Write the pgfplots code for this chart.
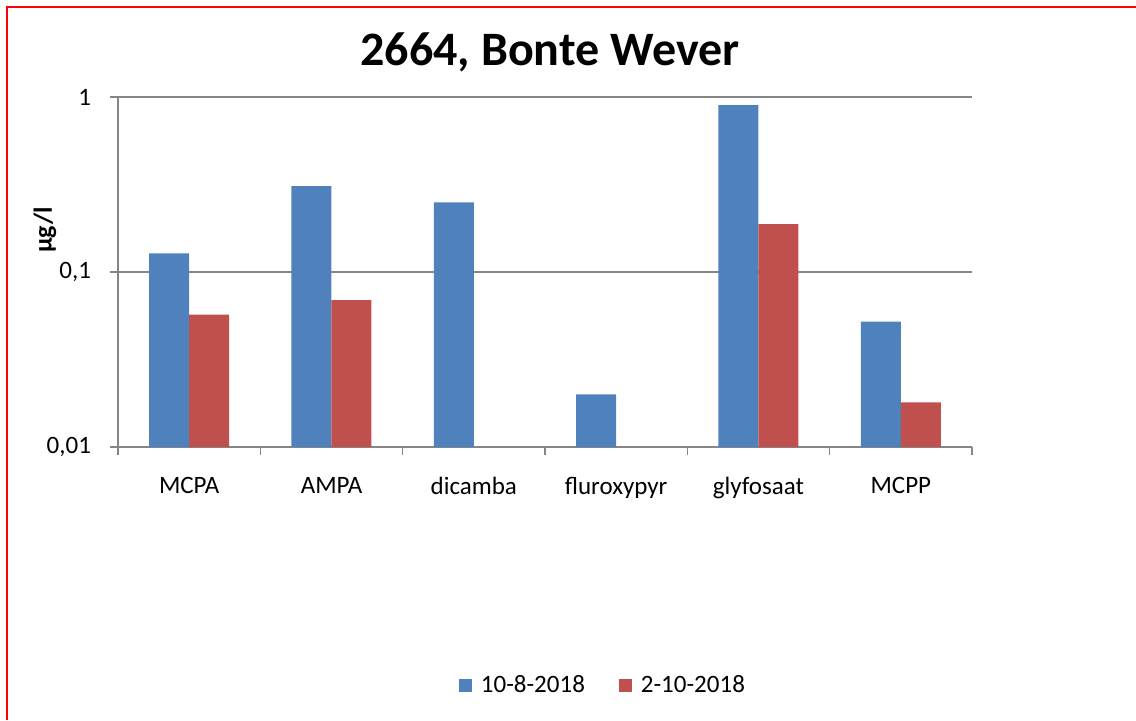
\documentclass[border=0pt]{standalone}
\usepackage{fontspec}
\setmainfont{Carlito}
\usepackage{pgfplots}
\pgfplotsset{compat=1.18}
\definecolor{serA}{RGB}{79,129,189}
\definecolor{serB}{RGB}{192,80,77}
\definecolor{gridgray}{RGB}{134,134,134}

\begin{document}
\begin{tikzpicture}[x=1pt,y=1pt]
\useasboundingbox (0,0) rectangle (568,360);
\draw[red, line width=1pt] (3.5,0) -- (3.5,356.5) -- (568,356.5);
\node[font=\fontsize{24}{28}\selectfont\bfseries] at (275,334) {2664, Bonte Wever};
\begin{axis}[
  at={(59pt,136.5pt)}, anchor=south west,
  scale only axis, width=427pt, height=175pt,
  ymode=log, ymin=0.01, ymax=1, log origin=infty,
  xmin=-0.5, xmax=5.5,
  ybar=0pt, bar width=20pt,
  xtick={-0.5,0.5,...,5.5},
  xticklabels={},
  extra x ticks={0,1,2,3,4,5},
  extra x tick labels={MCPA,AMPA,dicamba,fluroxypyr,glyfosaat,MCPP},
  extra x tick style={major tick length=0pt, xticklabel style={yshift=-11.5pt}},
  ytick={0.01,0.1,1},
  yticklabels={{0,01},{0,1},{1}},
  yticklabel style={xshift=-6pt},
  yminorticks=false,
  ymajorgrids, grid style={gridgray, line width=0.6pt},
  axis lines*=left,
  axis line style={gridgray, line width=0.6pt},
  tick style={gridgray, line width=0.6pt},
  tick align=outside,
  major tick length=4pt,
  tick label style={font=\fontsize{12.5}{15}\selectfont, black},
  ylabel={\textbf{µg/l}},
  ylabel style={at={(rel axis cs:-0.0855,0.62)}, anchor=center, font=\fontsize{13}{15}\selectfont},
  legend style={at={(0.569,-0.68)}, anchor=center, draw=none,
    font=\fontsize{12.5}{15}\selectfont,
    /tikz/every odd column/.append style={column sep=2.5pt},
    /tikz/every even column/.append style={column sep=15pt}},
  legend columns=2,
  legend image code/.code={\fill[#1] (0pt,-3.25pt) rectangle (6.5pt,3.25pt);},
]
\addplot[fill=serA, draw=none] coordinates {
  (0,0.128) (1,0.31) (2,0.25) (3,0.02) (4,0.9) (5,0.052)
};
\addplot[fill=serB, draw=none] coordinates {
  (0,0.057) (1,0.069) (4,0.188) (5,0.018)
};
\legend{10-8-2018, 2-10-2018}
\end{axis}
\end{tikzpicture}
\end{document}
